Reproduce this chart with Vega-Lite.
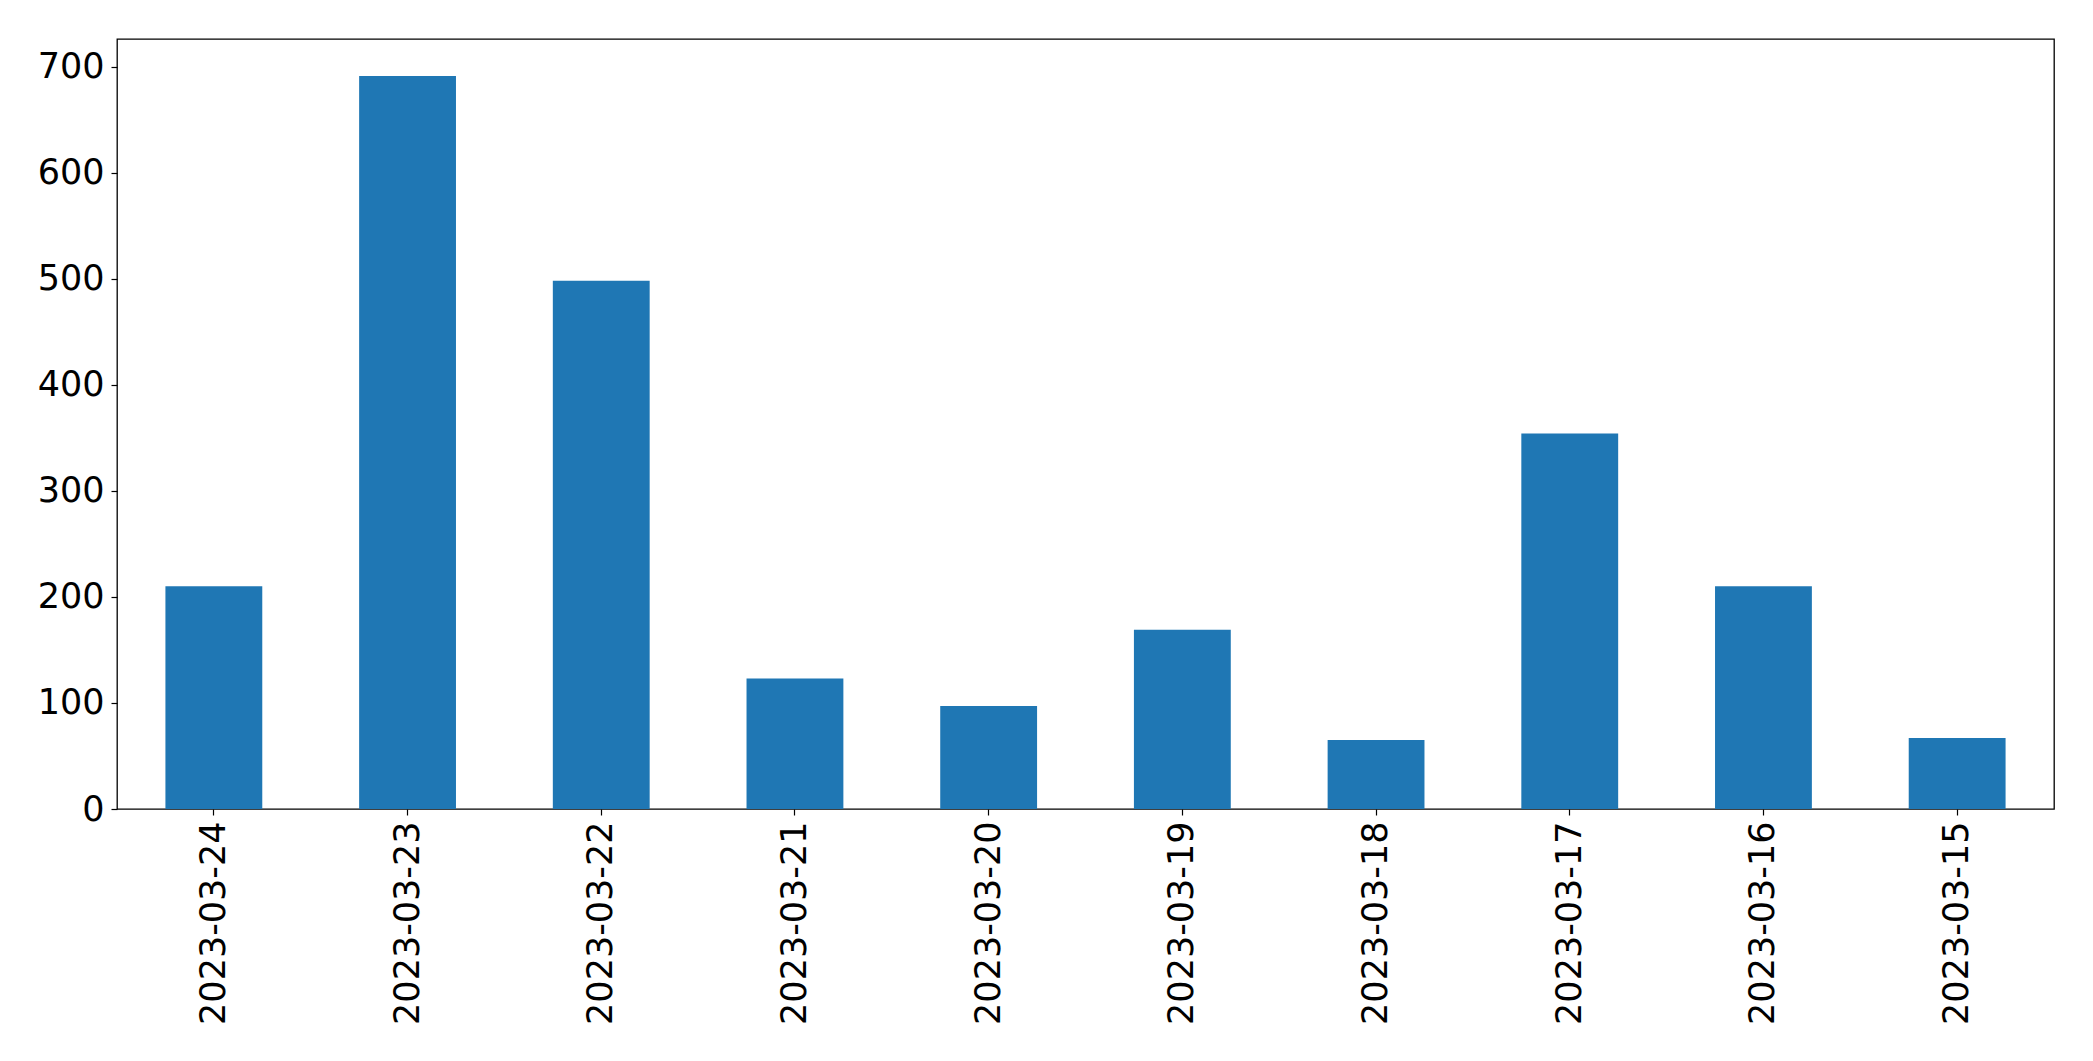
{
  "$schema": "https://vega.github.io/schema/vega-lite/v6.json",
  "autosize": {"type": "none"},
  "padding": {"left": 117, "top": 39, "right": 40, "bottom": 252},
  "width": 1937,
  "height": 770,
  "background": "white",
  "config": {
    "font": "DejaVu Sans",
    "view": {"stroke": "black", "strokeWidth": 1.3},
    "axis": {
      "grid": false,
      "domain": false,
      "tickColor": "black",
      "tickSize": 6,
      "tickWidth": 1.2,
      "labelColor": "black",
      "labelFont": "DejaVu Sans",
      "labelFontSize": 35,
      "labelLimit": 0,
      "title": null
    }
  },
  "data": {
    "values": [
      {"date": "2023-03-24", "count": 210},
      {"date": "2023-03-23", "count": 691},
      {"date": "2023-03-22", "count": 498},
      {"date": "2023-03-21", "count": 123},
      {"date": "2023-03-20", "count": 97},
      {"date": "2023-03-19", "count": 169},
      {"date": "2023-03-18", "count": 65},
      {"date": "2023-03-17", "count": 354},
      {"date": "2023-03-16", "count": 210},
      {"date": "2023-03-15", "count": 67}
    ]
  },
  "mark": {"type": "bar", "color": "#1f77b4"},
  "encoding": {
    "x": {
      "field": "date",
      "type": "nominal",
      "sort": null,
      "scale": {"paddingInner": 0.5, "paddingOuter": 0.25},
      "axis": {"labelAngle": -90, "labelPadding": 6, "labelBaseline": "middle", "labelAlign": "right", "labelFontSize": 35, "labelLimit": 0}
    },
    "y": {
      "field": "count",
      "type": "quantitative",
      "scale": {"domain": [0, 726], "nice": false, "zero": true},
      "axis": {"values": [0, 100, 200, 300, 400, 500, 600, 700], "labelPadding": 7, "labelFontSize": 35}
    }
  }
}
